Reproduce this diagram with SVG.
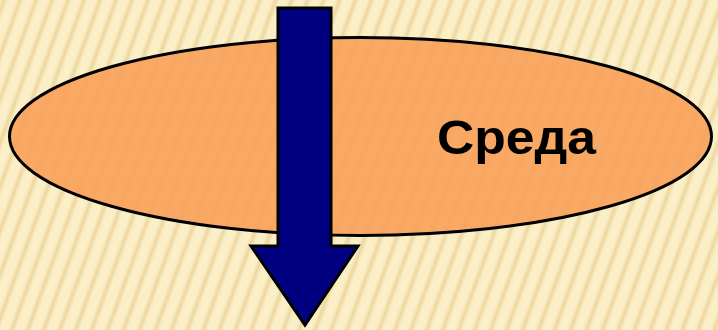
<svg xmlns="http://www.w3.org/2000/svg" width="718" height="330" viewBox="0 0 718 330">
<defs>
<linearGradient id="sg" x1="0" y1="0" x2="1" y2="0">
<stop offset="0" stop-color="#f0dba5" stop-opacity="0"/>
<stop offset="0.5" stop-color="#ecd59d" stop-opacity="1"/>
<stop offset="1" stop-color="#f0dba5" stop-opacity="0"/>
</linearGradient>
<pattern id="stripes" width="15" height="40" patternUnits="userSpaceOnUse" patternTransform="rotate(20)">
<rect width="15" height="40" fill="#fbefc8"/>
<rect x="0" width="8" height="40" fill="url(#sg)"/>
</pattern>
<linearGradient id="og" x1="0" y1="0" x2="1" y2="0">
<stop offset="0" stop-color="#e08a40" stop-opacity="0"/>
<stop offset="0.5" stop-color="#e08a40" stop-opacity="0.1"/>
<stop offset="1" stop-color="#e08a40" stop-opacity="0"/>
</linearGradient>
<pattern id="ostripes" width="15" height="40" patternUnits="userSpaceOnUse" patternTransform="rotate(20)">
<rect x="0" width="8" height="40" fill="url(#og)"/>
</pattern>
<style>
.outline{stroke:#000;stroke-width:3}
.label{font-family:"Liberation Sans",Arial,sans-serif;font-weight:bold;font-size:48px;fill:#000}
</style>
</defs>
<rect width="718" height="330" fill="url(#stripes)"/>
<g id="environment">
<ellipse cx="360.5" cy="136.5" rx="351" ry="99" fill="#f9a964" class="outline"/>
<ellipse cx="360.5" cy="136.5" rx="349" ry="97" fill="url(#ostripes)"/>
<text class="label" x="437" y="154" textLength="159" lengthAdjust="spacingAndGlyphs">Среда</text>
</g>
<g id="connectors">
<path d="M278 8 H331 V246 H358 L305 325 L251 246 H278 Z" fill="#000080" stroke="#000" stroke-width="3" stroke-linejoin="miter"/>
</g>
</svg>
